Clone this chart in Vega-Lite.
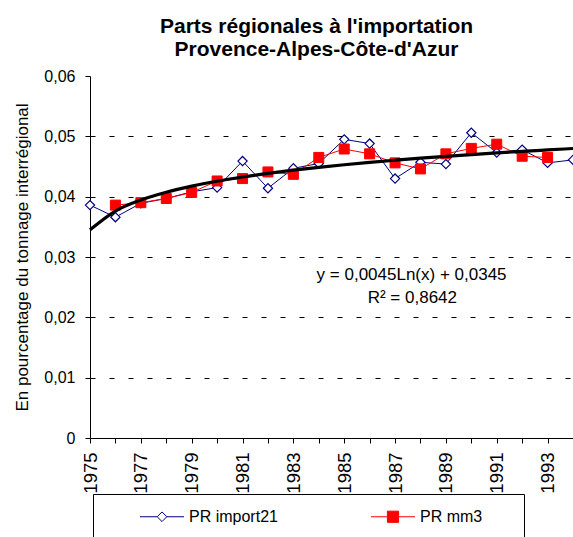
{
  "$schema": "https://vega.github.io/schema/vega-lite/v6.json",
  "width": 483,
  "height": 362,
  "autosize": {"type": "none"},
  "padding": {"left": 90, "top": 76, "right": 0, "bottom": 99},
  "background": "white",
  "title": {
    "text": ["Parts régionales à l'importation", "Provence-Alpes-Côte-d'Azur"],
    "fontSize": 21,
    "fontWeight": "bold",
    "font": "Liberation Sans",
    "color": "black",
    "anchor": "middle",
    "dx": -15,
    "offset": 8,
    "lineHeight": 23
  },
  "config": {
    "view": {"stroke": null},
    "font": "Liberation Sans"
  },
  "datasets": {
    "obs": [
      {"year": 1975, "value": 0.0386, "series": "PR import21"},
      {"year": 1976, "value": 0.0366, "series": "PR import21"},
      {"year": 1977, "value": 0.0389, "series": "PR import21"},
      {"year": 1978, "value": 0.0397, "series": "PR import21"},
      {"year": 1979, "value": 0.0408, "series": "PR import21"},
      {"year": 1980, "value": 0.0415, "series": "PR import21"},
      {"year": 1981, "value": 0.0459, "series": "PR import21"},
      {"year": 1982, "value": 0.0414, "series": "PR import21"},
      {"year": 1983, "value": 0.0447, "series": "PR import21"},
      {"year": 1984, "value": 0.0455, "series": "PR import21"},
      {"year": 1985, "value": 0.0495, "series": "PR import21"},
      {"year": 1986, "value": 0.0488, "series": "PR import21"},
      {"year": 1987, "value": 0.0430, "series": "PR import21"},
      {"year": 1988, "value": 0.0457, "series": "PR import21"},
      {"year": 1989, "value": 0.0454, "series": "PR import21"},
      {"year": 1990, "value": 0.0506, "series": "PR import21"},
      {"year": 1991, "value": 0.0473, "series": "PR import21"},
      {"year": 1992, "value": 0.0478, "series": "PR import21"},
      {"year": 1993, "value": 0.0456, "series": "PR import21"},
      {"year": 1994, "value": 0.0461, "series": "PR import21"},
      {"year": 1976, "value": 0.0386, "series": "PR mm3"},
      {"year": 1977, "value": 0.0390, "series": "PR mm3"},
      {"year": 1978, "value": 0.0397, "series": "PR mm3"},
      {"year": 1979, "value": 0.0407, "series": "PR mm3"},
      {"year": 1980, "value": 0.0426, "series": "PR mm3"},
      {"year": 1981, "value": 0.0430, "series": "PR mm3"},
      {"year": 1982, "value": 0.0441, "series": "PR mm3"},
      {"year": 1983, "value": 0.0437, "series": "PR mm3"},
      {"year": 1984, "value": 0.0465, "series": "PR mm3"},
      {"year": 1985, "value": 0.0479, "series": "PR mm3"},
      {"year": 1986, "value": 0.0471, "series": "PR mm3"},
      {"year": 1987, "value": 0.0456, "series": "PR mm3"},
      {"year": 1988, "value": 0.0446, "series": "PR mm3"},
      {"year": 1989, "value": 0.0471, "series": "PR mm3"},
      {"year": 1990, "value": 0.0480, "series": "PR mm3"},
      {"year": 1991, "value": 0.0487, "series": "PR mm3"},
      {"year": 1992, "value": 0.0467, "series": "PR mm3"},
      {"year": 1993, "value": 0.0465, "series": "PR mm3"}
    ],
    "trend": [
      {"year": 1975, "value": 0.03450},
      {"year": 1976, "value": 0.03762},
      {"year": 1977, "value": 0.03944},
      {"year": 1978, "value": 0.04074},
      {"year": 1979, "value": 0.04174},
      {"year": 1980, "value": 0.04256},
      {"year": 1981, "value": 0.04326},
      {"year": 1982, "value": 0.04386},
      {"year": 1983, "value": 0.04439},
      {"year": 1984, "value": 0.04486},
      {"year": 1985, "value": 0.04529},
      {"year": 1986, "value": 0.04568},
      {"year": 1987, "value": 0.04604},
      {"year": 1988, "value": 0.04638},
      {"year": 1989, "value": 0.04669},
      {"year": 1990, "value": 0.04698},
      {"year": 1991, "value": 0.04725},
      {"year": 1992, "value": 0.04751},
      {"year": 1993, "value": 0.04775},
      {"year": 1994, "value": 0.04798}
    ],
    "notes": [
      {"year": 1987.65, "value": 0.0262, "label": "y = 0,0045Ln(x) + 0,0345"},
      {"year": 1987.68, "value": 0.02245, "label": "R² = 0,8642"}
    ]
  },
  "encoding": {
    "x": {
      "field": "year",
      "type": "quantitative",
      "scale": {"domain": [1975, 1994], "nice": false, "zero": false},
      "axis": {
        "values": [1975, 1976, 1977, 1978, 1979, 1980, 1981, 1982, 1983, 1984, 1985, 1986, 1987, 1988, 1989, 1990, 1991, 1992, 1993, 1994],
        "format": "d",
        "labelExpr": "datum.value % 2 == 1 ? datum.label : ''",
        "labelAngle": -90,
        "labelFontSize": 18.5,
        "labelColor": "black",
        "labelPadding": 9,
        "labelFlush": false,
        "labelOverlap": false,
        "tickSize": 5,
        "tickColor": "black",
        "domainColor": "black",
        "grid": false,
        "title": null
      }
    },
    "y": {
      "field": "value",
      "type": "quantitative",
      "scale": {"domain": [0, 0.06], "nice": false},
      "axis": {
        "values": [0, 0.01, 0.02, 0.03, 0.04, 0.05, 0.06],
        "labelExpr": "datum.value == 0 ? '0' : replace(format(datum.value, '.2f'), '.', ',')",
        "labelFontSize": 16,
        "labelColor": "black",
        "labelPadding": 10,
        "tickSize": 5,
        "tickColor": "black",
        "domainColor": "black",
        "grid": true,
        "gridDash": [5, 14],
        "gridColor": {"condition": {"test": "datum.value >= 0.055 || datum.value == 0", "value": "transparent"}, "value": "#000000"},
        "title": "En pourcentage du tonnage interrégional",
        "titleFontSize": 17,
        "titleFontWeight": "normal",
        "titleColor": "black",
        "titlePadding": 12
      }
    }
  },
  "layer": [
    {
      "data": {"name": "obs"},
      "transform": [{"filter": "datum.series === 'PR import21'"}],
      "mark": {"type": "line", "color": "#000080", "strokeWidth": 1}
    },
    {
      "data": {"name": "obs"},
      "transform": [{"filter": "datum.series === 'PR import21'"}],
      "mark": {"type": "point", "shape": "diamond", "size": 85, "filled": true, "fill": "#FFFFFF", "stroke": "#000080", "strokeWidth": 1.2, "opacity": 1}
    },
    {
      "data": {"name": "obs"},
      "transform": [{"filter": "datum.series === 'PR mm3'"}],
      "mark": {"type": "line", "color": "#FF0000", "strokeWidth": 1}
    },
    {
      "data": {"name": "obs"},
      "transform": [{"filter": "datum.series === 'PR mm3'"}],
      "mark": {"type": "point", "shape": "square", "size": 100, "filled": true, "fill": "#FF0000", "stroke": "#FF0000", "strokeWidth": 1, "opacity": 1}
    },
    {
      "data": {"name": "trend"},
      "mark": {"type": "line", "color": "#000000", "strokeWidth": 3.2, "interpolate": "monotone"}
    },
    {
      "data": {"name": "obs"},
      "mark": {"type": "point", "size": 256, "filled": true, "opacity": 0, "strokeWidth": 1},
      "encoding": {
        "shape": {
          "field": "series",
          "type": "nominal",
          "scale": {
            "domain": ["PR import21", "PR mm3"],
            "range": ["M-2.75,0H-0.6M0.6,0H2.75M0,-0.6L0.6,0L0,0.6L-0.6,0Z", "M-2.75,0H2.75M-0.7,-0.7H0.7V0.7H-0.7ZM14.3,0"]
          },
          "legend": {
            "title": "\u00a0",
            "titleOrient": "left",
            "titlePadding": 46.5,
            "titleFontSize": 16,
            "orient": "none",
            "legendX": 3,
            "legendY": 418,
            "direction": "horizontal",
            "columns": 2,
            "columnPadding": 90,
            "gridAlign": "each",
            "padding": 14,
            "strokeColor": "#000000",
            "symbolSize": 256,
            "symbolStrokeWidth": 1,
            "symbolOpacity": 1,
            "labelFontSize": 16,
            "labelFont": "Liberation Sans",
            "labelColor": "black",
            "labelOffset": 18.5,
            "labelLimit": 300
          }
        },
        "stroke": {
          "field": "series",
          "type": "nominal",
          "scale": {"domain": ["PR import21", "PR mm3"], "range": ["#000080", "#FF0000"]}
        },
        "fill": {
          "field": "series",
          "type": "nominal",
          "scale": {"domain": ["PR import21", "PR mm3"], "range": ["#FFFFFF", "#FF0000"]}
        }
      }
    },
    {
      "data": {"name": "notes"},
      "mark": {"type": "text", "fontSize": 17, "font": "Liberation Sans", "color": "black", "align": "center", "baseline": "alphabetic"},
      "encoding": {
        "text": {"field": "label", "type": "nominal"}
      }
    }
  ]
}
